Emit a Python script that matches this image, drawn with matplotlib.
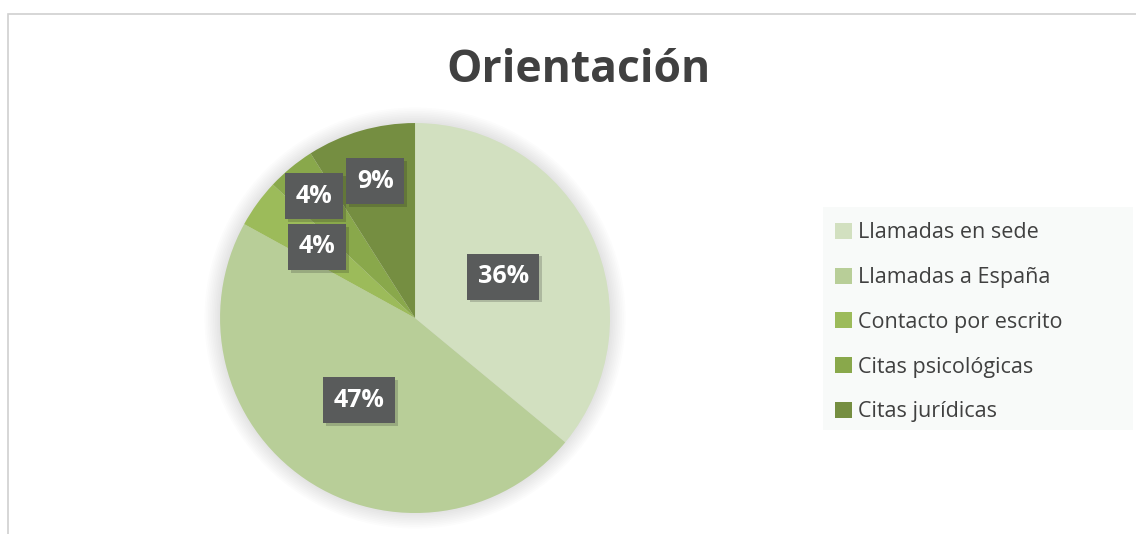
import matplotlib
matplotlib.use("Agg")
import matplotlib.pyplot as plt
import matplotlib.patheffects as pe
from matplotlib.patches import Rectangle
import numpy as np

plt.rcParams['font.family'] = ['Open Sans', 'DejaVu Sans']

categories = ["Llamadas en sede", "Llamadas a España", "Contacto por escrito",
              "Citas psicológicas", "Citas jurídicas"]
values = [36, 47, 4, 4, 9]
colors = ["#D2E0C0", "#B8CE98", "#9CBB5A", "#89A84B", "#758E41"]
label_radius = [0.50, 0.51, 0.62, 0.81, 0.73]

fig = plt.figure(figsize=(11.36, 5.34), dpi=100)

# chart border (top and left visible)
fig.patches.append(Rectangle((8 / 1136, -0.1), 1.2, (534 - 14) / 534 + 0.1,
                             transform=fig.transFigure, fill=False,
                             edgecolor="#D0D0D0", linewidth=1.2))
# legend background
fig.patches.append(Rectangle((823 / 1136, 1 - 430 / 534), 310 / 1136, 223 / 534,
                             transform=fig.transFigure, facecolor="#F8FAF9",
                             edgecolor="none", zorder=0))

ax = fig.add_axes([0.1937, 0.0393, 0.3433, 0.7303])

# soft shadow around the pie
for r in np.linspace(1.0, 1.08, 10):
    ax.add_patch(plt.Circle((0, 0.0), r, color="#000000", alpha=0.01, lw=0,
                            zorder=0, clip_on=False))

wedges, _ = ax.pie(values, colors=colors, startangle=90, counterclock=False,
                   wedgeprops=dict(linewidth=0), radius=1.0)
for w in wedges:
    w.set_zorder(2)

for w, v, rr in zip(wedges, values, label_radius):
    ang = np.deg2rad((w.theta1 + w.theta2) / 2)
    t = ax.text(rr * np.cos(ang), rr * np.sin(ang), f"{v}%", ha="center", va="center",
                fontsize=18, fontweight="bold", color="white", zorder=5,
                bbox=dict(boxstyle="square,pad=0.42", facecolor="#595B5B", edgecolor="none"))
    t.get_bbox_patch().set_path_effects([pe.SimplePatchShadow(offset=(2, -2), alpha=0.2),
                                         pe.Normal()])

ax.set_xlim(-1, 1)
ax.set_ylim(-1, 1)
ax.set_aspect("equal")
ax.axis("off")

fig.text(0.509, 0.868, "Orientación", ha="center", va="center", fontsize=32,
         fontweight="bold", color="#404040")

leg = fig.legend(wedges, categories, loc="upper left",
                 bbox_to_anchor=(829 / 1136, 1 - 216 / 534),
                 frameon=False, fontsize=15.5, labelcolor="#404040", handlelength=0.75,
                 handleheight=0.75, handletextpad=0.3, labelspacing=1.1, borderpad=0.3,
                 borderaxespad=0)

fig.savefig("out.png", dpi=100)
